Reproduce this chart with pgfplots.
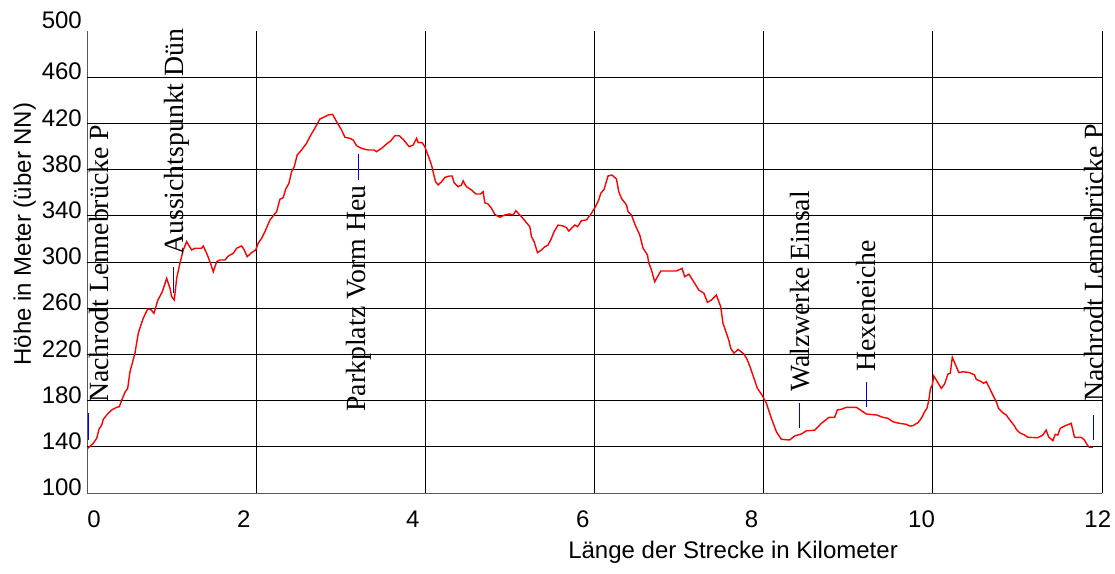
\documentclass[border=0pt]{standalone}
\usepackage{pgfplots}
\pgfplotsset{compat=1.18}
\usepackage{fontspec}
\setmainfont{Liberation Sans}
\newfontfamily\timesfont{Liberation Serif}
\begin{document}
\begin{tikzpicture}
\begin{axis}[
  name=ax,
  scale only axis, width=1015pt, height=462pt,
  xmin=0, xmax=12, ymin=100, ymax=500,
  axis x line*=bottom, axis y line*=left,
  axis line style={-, black!65, line width=1pt},
  xtick={0.083,1.855,3.852,5.861,7.858,9.867,11.95},
  xticklabels={0,2,4,6,8,10,12},
  extra x ticks={2,4,6,8,10,12}, extra x tick labels={},
  extra x tick style={grid=major},
  ytick={100,140,...,460},
  extra y ticks={140,180,...,460}, extra y tick labels={},
  extra y tick style={grid=major},
  major tick length=0pt,
  grid style={black, line width=0.9pt},
  /pgf/number format/assume math mode=true,
  tick label style={font=\fontsize{24}{24}\selectfont},
  xticklabel style={anchor=north, inner sep=0pt, yshift=-18pt},
  yticklabel style={anchor=east, inner sep=0pt, xshift=-5pt, yshift=5.5pt},
  xlabel={Länge der Strecke in Kilometer},
  ylabel={Höhe in Meter (über NN)},
  xlabel style={font=\fontsize{24}{24}\selectfont, at={([yshift=-48pt]rel axis cs:0.6365,0)}, anchor=north, inner sep=0pt},
  ylabel style={font=\fontsize{24}{24}\selectfont, at={([xshift=-51pt]rel axis cs:0,0.5606)}, anchor=south, inner sep=0pt},
  clip=false,
]
\addplot[red, line width=1.4pt] table {
x y
0.010 138.7
0.074 143.0
0.115 147.4
0.142 155.2
0.174 158.9
0.193 163.8
0.233 167.5
0.292 171.9
0.351 174.2
0.382 174.7
0.410 180.5
0.449 187.2
0.481 190.6
0.508 205.0
0.567 221.0
0.606 238.3
0.618 241.1
0.665 251.3
0.717 259.3
0.753 259.0
0.792 255.6
0.835 266.5
0.890 274.3
0.913 279.2
0.942 285.9
0.981 277.2
1.001 270.0
1.032 267.1
1.060 285.9
1.099 298.9
1.138 310.4
1.178 317.6
1.237 310.4
1.276 311.9
1.355 311.9
1.374 313.9
1.415 307.5
1.453 300.3
1.493 291.6
1.533 300.3
1.572 301.7
1.631 301.7
1.670 305.2
1.729 307.5
1.769 311.9
1.828 313.9
1.855 311.0
1.894 304.6
1.946 308.1
1.994 310.4
2.024 316.2
2.064 320.5
2.103 326.2
2.163 336.4
2.242 343.6
2.281 354.3
2.320 355.7
2.348 362.9
2.387 368.1
2.419 378.2
2.450 382.5
2.485 392.6
2.537 397.0
2.596 402.8
2.635 408.5
2.694 415.8
2.753 423.8
2.812 425.8
2.851 427.3
2.903 427.9
2.951 421.5
3.010 414.3
3.049 408.0
3.108 407.1
3.147 405.6
3.187 400.7
3.246 398.4
3.285 397.6
3.324 397.0
3.395 397.0
3.423 395.5
3.483 398.4
3.542 402.2
3.592 405.0
3.640 409.4
3.690 409.4
3.738 406.2
3.809 399.8
3.856 401.3
3.896 407.1
3.915 403.3
3.962 403.3
3.994 399.8
4.045 389.8
4.073 384.0
4.101 375.3
4.121 369.5
4.151 366.7
4.192 369.5
4.231 373.3
4.290 374.5
4.317 374.5
4.340 368.7
4.388 365.2
4.428 366.7
4.447 370.4
4.467 367.5
4.487 365.2
4.546 362.3
4.597 358.9
4.652 358.9
4.683 360.9
4.703 351.3
4.742 350.2
4.782 346.5
4.821 341.3
4.880 338.7
4.939 340.7
4.998 341.6
5.038 340.7
5.070 344.4
5.137 339.2
5.196 334.0
5.235 330.6
5.255 321.9
5.286 317.6
5.326 308.1
5.373 310.4
5.412 313.2
5.451 314.7
5.491 320.5
5.522 326.2
5.569 332.0
5.628 331.2
5.669 329.7
5.696 326.8
5.747 330.6
5.767 332.0
5.799 330.6
5.846 335.8
5.905 336.4
5.964 342.2
6.011 347.9
6.050 353.7
6.074 359.5
6.113 362.9
6.160 374.5
6.207 375.3
6.259 371.9
6.287 360.9
6.318 355.2
6.378 349.4
6.397 343.6
6.437 340.7
6.476 332.9
6.535 323.4
6.574 311.9
6.626 306.1
6.641 299.4
6.673 293.1
6.712 282.9
6.783 292.2
6.968 292.2
7.035 294.5
7.066 287.3
7.117 289.4
7.184 281.6
7.232 275.8
7.294 272.9
7.335 265.1
7.382 267.1
7.441 271.4
7.492 261.3
7.519 246.9
7.587 232.5
7.610 225.3
7.649 221.0
7.696 224.4
7.767 220.3
7.807 215.2
7.835 210.0
7.926 190.6
7.980 184.8
8.032 177.7
8.091 164.7
8.150 153.1
8.209 146.5
8.307 145.9
8.366 149.4
8.446 151.1
8.505 153.9
8.603 154.3
8.682 160.3
8.772 165.5
8.839 165.5
8.871 171.9
8.918 172.5
8.977 174.2
9.096 174.2
9.155 171.3
9.214 168.4
9.339 167.5
9.410 165.5
9.469 164.7
9.528 161.7
9.607 160.3
9.687 159.5
9.726 158.0
9.765 158.3
9.824 160.9
9.864 164.7
9.903 170.4
9.930 173.3
9.953 180.5
9.970 189.8
9.993 193.5
10.012 201.3
10.060 195.5
10.100 190.6
10.139 194.4
10.178 203.0
10.206 203.6
10.230 217.5
10.269 210.8
10.308 204.2
10.355 205.0
10.434 204.2
10.493 202.2
10.513 198.4
10.573 196.4
10.600 195.0
10.632 196.4
10.671 190.6
10.710 184.8
10.750 179.0
10.777 173.3
10.828 169.5
10.868 167.5
10.887 165.5
10.927 161.7
10.966 158.0
10.986 155.2
11.025 152.2
11.084 150.2
11.123 148.2
11.241 147.9
11.300 150.2
11.340 154.5
11.368 148.7
11.419 145.3
11.447 150.8
11.478 150.2
11.506 156.0
11.557 158.0
11.636 160.3
11.675 148.2
11.754 148.2
11.793 145.9
11.825 141.6
11.852 139.6
11.891 139.6
};
% marker lines
\addplot[blue, line width=1pt] coordinates {(0.012,146.0) (0.012,169.3)};
\addplot[blue, line width=1pt] coordinates {(1.028,273.2) (1.028,295.7)};
\addplot[blue, line width=1pt] coordinates {(3.214,371.0) (3.214,393.5)};
\addplot[blue, line width=1pt] coordinates {(8.425,156.3) (8.425,177.9)};
\addplot[blue, line width=1pt] coordinates {(9.214,174.5) (9.214,196.4)};
\addplot[blue, line width=1pt] coordinates {(11.90,145.9) (11.90,167.5)};
% top tick label
\node[anchor=east, inner sep=0pt, xshift=-5pt, yshift=11pt, font=\fontsize{24}{24}\selectfont] at (rel axis cs:0,1) {500};
% labels
\begin{scope}[every node/.style={rotate=90, inner sep=0pt, font=\timesfont\fontsize{27.8}{28}\selectfont}]
\node[anchor=west] at (axis cs:0.142,177.9) {Nachrodt Lennebrücke P};
\node[anchor=west] at (axis cs:1.058,306.1) {Aussichtspunkt Dün};
\node[anchor=east] at (axis cs:3.214,366.7) {Parkplatz Vorm Heu};
\node[anchor=west] at (axis cs:8.425,187.4) {Walzwerke Einsal};
\node[anchor=west] at (axis cs:9.214,205.0) {Hexeneiche};
\node[anchor=west] at (axis cs:11.90,178.8) {Nachrodt Lennebrücke P};
\end{scope}
\end{axis}
\pgfresetboundingbox
\path ([shift={(-87pt,-80pt)}]ax.south west) rectangle ([shift={(13pt,31pt)}]ax.north east);
\end{tikzpicture}
\end{document}
